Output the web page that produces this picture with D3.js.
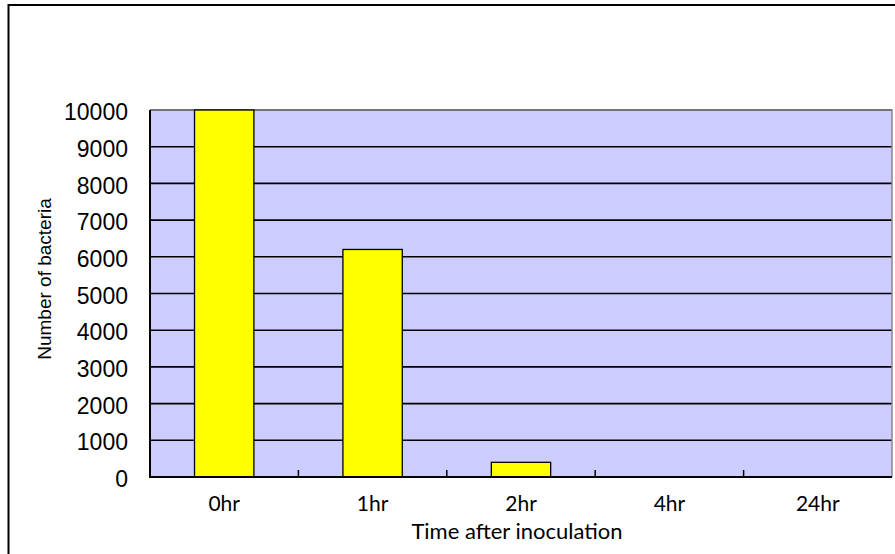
<!DOCTYPE html>
<html>
<head>
<meta charset="utf-8">
<script src="https://cdn.jsdelivr.net/npm/d3@7"></script>
<style>
  body { margin: 0; background: #fff; }
</style>
</head>
<body>
<script>
const categories = ["0hr", "1hr", "2hr", "4hr", "24hr"];
const counts = [10000, 6200, 400, 0, 0];
const yTicks = [0, 1000, 2000, 3000, 4000, 5000, 6000, 7000, 8000, 9000, 10000];
const xTitle = "Time after inoculation";
const yTitle = "Number of bacteria";

const W = 895, H = 554;
const plot = { left: 150, right: 892, top: 110, bottom: 477 };

const svg = d3.select("body").append("svg").attr("width", W).attr("height", H);

// chart frame
svg.append("rect")
  .attr("x", 8.5).attr("y", 5)
  .attr("width", W).attr("height", H + 10)
  .attr("fill", "#fff").attr("stroke", "#000").attr("stroke-width", 2);

const x = d3.scaleBand()
  .domain(categories)
  .range([plot.left, plot.right])
  .paddingInner(0.6)
  .paddingOuter(0.3);

const y = d3.scaleLinear()
  .domain([0, 10000])
  .range([plot.bottom, plot.top]);

// plot background
svg.append("rect")
  .attr("x", plot.left).attr("y", plot.top)
  .attr("width", plot.right - plot.left).attr("height", plot.bottom - plot.top)
  .attr("fill", "#ccccff");

// grid lines
svg.append("g")
  .attr("stroke", "#000")
  .attr("stroke-width", 1.6)
  .selectAll("line")
  .data(yTicks.filter((d) => d > 0))
  .join("line")
  .attr("x1", plot.left).attr("x2", plot.right)
  .attr("y1", (d) => y(d)).attr("y2", (d) => y(d));

// plot border (gray top / right)
svg.append("path")
  .attr("d", `M${plot.left},${plot.top}H${plot.right}V${plot.bottom}`)
  .attr("fill", "none").attr("stroke", "#888").attr("stroke-width", 1.5);

// bars
svg.append("g")
  .selectAll("rect")
  .data(categories.map((c, i) => ({ c, v: counts[i] })))
  .join("rect")
  .attr("x", (d) => x(d.c))
  .attr("width", x.bandwidth())
  .attr("y", (d) => y(d.v))
  .attr("height", (d) => y(0) - y(d.v))
  .attr("fill", "#ffff00")
  .attr("stroke", "#000")
  .attr("stroke-width", 1.3);

// x tick marks between categories (inside)
const step = x.step();
svg.append("g")
  .attr("stroke", "#000")
  .attr("stroke-width", 1.5)
  .selectAll("line")
  .data(categories.slice(1))
  .join("line")
  .attr("x1", (d) => x(d) - step * 0.3)
  .attr("x2", (d) => x(d) - step * 0.3)
  .attr("y1", plot.bottom).attr("y2", plot.bottom - 7);

// axes lines
svg.append("path")
  .attr("d", `M${plot.left},${plot.top}V${plot.bottom}H${plot.right}`)
  .attr("fill", "none").attr("stroke", "#000").attr("stroke-width", 2);

// y labels
const yAxis = svg.append("g")
  .attr("transform", `translate(${plot.left},0)`)
  .call(d3.axisLeft(y).tickValues(yTicks).tickFormat(d3.format("d")).tickSize(0).tickPadding(22));
yAxis.select(".domain").remove();
yAxis.selectAll("text")
  .attr("font-family", "'Liberation Sans Narrow', 'Arial Narrow', sans-serif")
  .attr("font-size", 23)
  .attr("fill", "#000")
  .attr("dy", "0.42em");

// x labels
const xAxis = svg.append("g")
  .attr("transform", `translate(0,${plot.bottom})`)
  .call(d3.axisBottom(x).tickSize(0).tickPadding(0));
xAxis.select(".domain").remove();
xAxis.selectAll("text")
  .attr("font-family", "Lato, sans-serif")
  .attr("font-size", 21)
  .attr("fill", "#000")
  .attr("dy", null)
  .attr("y", 34);

// titles
svg.append("text")
  .attr("x", 517).attr("y", 539)
  .attr("text-anchor", "middle")
  .attr("font-family", "Lato, sans-serif")
  .attr("font-size", 22)
  .text(xTitle);

svg.append("text")
  .attr("transform", "translate(51,279) rotate(-90)")
  .attr("text-anchor", "middle")
  .attr("font-family", "'Liberation Sans', Arial, sans-serif")
  .attr("font-size", 19)
  .text(yTitle);
</script>
</body>
</html>
